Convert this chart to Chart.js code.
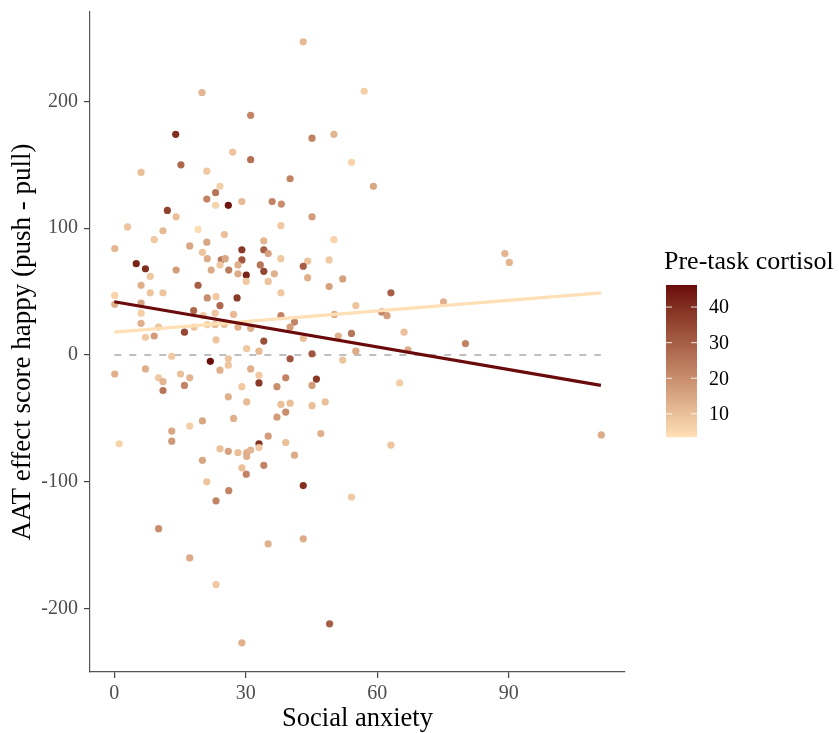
<!DOCTYPE html>
<html><head><meta charset="utf-8">
<script src="https://cdn.jsdelivr.net/npm/chart.js@4.4.1/dist/chart.umd.min.js"></script>
<style>html,body{margin:0;padding:0;background:#fff;} canvas{display:block;}</style>
</head><body>
<canvas id="c" width="839" height="733"></canvas>
<script>
// ---- data ----
const socialAnxiety = [
 20.0,31.1,14.0,27.0,31.1,15.2,6.1,21.1,24.1,23.1,21.1,23.1,26.0,29.1,36.0,12.1,14.1,3.0,11.1,19.1,25.1,9.1,21.1,34.1,
 43.1,57.0,45.1,50.1,54.1,40.1,59.1,38.1,45.1,38.0,50.1,
 0.1,17.2,20.1,21.2,29.1,34.1,35.1,24.4,25.3,24.1,29.1,28.2,5.0,7.1,8.2,14.1,22.1,26.1,28.2,30.1,30.1,33.3,34.1,35.1,
 6.1,8.2,11.1,19.1,21.2,23.2,28.0,0.1,0.1,24.1,6.1,18.1,23.0,27.2,6.1,20.3,6.1,10.1,18.2,21.2,23.0,25.1,28.2,31.1,
 7.1,9.1,16.0,23.2,30.2,34.1,33.0,13.1,21.9,26.0,26.0,24.1,31.1,7.1,0.1,15.1,17.2,10.1,11.1,11.1,16.0,33.0,33.0,29.1,
 26.0,30.2,20.1,27.2,17.2,13.1,13.1,1.1,24.1,26.0,28.2,30.2,31.1,33.0,33.0,35.1,20.1,
 38.0,44.1,43.1,49.0,36.5,44.1,52.1,49.0,63.1,38.0,55.1,75.1,61.0,62.2,50.2,38.0,41.1,40.1,66.1,43.1,51.1,54.1,55.1,67.0,
 45.1,40.1,52.1,46.1,45.1,39.1,37.1,65.1,38.0,40.1,45.1,48.1,39.1,37.1,47.1,39.1,63.1,41.1,
 89.1,90.1,80.1,111.1,
 29.1,30.1,34.1,30.2,21.1,26.1,23.2,10.1,35.1,17.2,23.2,29.1,
 43.1,54.1,43.1,49.1
];
const aatScore = [
 207,189,174,160,154,150,144,145,133,128,123,118,118,121,121,114,109,101,98,99,95,91,89,90,
 247,208,171,174,152,139,133,119,109,102,91,
 84,86,81,76,83,83,80,75,76,71,75,71,72,68,62,67,67,67,64,63,58,71,66,58,
 55,49,49,55,45,46,45,47,40,39,41,35,33,32,33,31,25,22,22,24,24,24,22,21,
 14,15,18,12,5,11,3,-1,-5,-3,-8,-12,-11,-11,-15,-15,-18,-18,-21,-28,-24,-16,-22,-25,
 -33,-37,-52,-50,-56,-60,-68,-70,-74,-76,-77,-77,-75,-70,-73,-64,-83,
 76,74,70,75,64,61,60,54,49,49,39,42,34,31,32,31,26,22,18,13,15,17,3,4,
 1,-3,-4,-19,-24,-18,-25,-22,-39,-38,-40,-37,-45,-49,-62,-69,-71,-79,
 80,73,9,-63,
 -89,-94,-87,-80,-100,-107,-115,-137,-149,-160,-181,-227,
 -103,-112,-145,-212
];
const cortisol = [
 12,22,40,9,26,28,10,8,7,25,22,6,45,11,22,36,10,9,11,4,10,8,15,12,
 11,7,22,12,6,22,15,20,17,8,6,
 12,15,9,14,38,30,16,25,15,8,32,13,42,40,8,17,14,24,14,42,8,25,35,9,
 13,9,9,30,20,8,38,6,13,28,15,28,9,11,7,8,13,9,9,7,11,9,13,13,
 8,17,35,9,8,33,11,8,46,9,9,13,13,13,13,10,12,8,12,25,22,8,38,8,
 13,11,15,13,7,15,18,6,10,16,10,13,12,40,8,17,15,
 8,9,30,8,13,13,16,16,30,8,9,13,22,17,13,22,22,17,10,10,13,25,14,14,
 32,32,9,38,17,22,20,7,10,10,10,10,20,17,13,10,9,14,
 12,12,22,14,
 10,22,22,13,9,22,22,20,13,14,8,13,
 40,8,14,30
];
const xTicks = [0, 30, 60, 90];
const yTicks = [-200, -100, 0, 100, 200];
const legendTicks = [10, 20, 30, 40];
const fitX = [0, 111];
const fitHighCortisol = [42, -24];
const fitLowCortisol = [18, 49];
const zeroLineX = [0, 111];
const zeroLineY = [0, 0];
const cortisolMin = 3.5, cortisolMax = 46.2;
const lowColor = '#FFE0B6', highColor = '#6B0A0A';

// ---- colour scale (Lab interpolation like ggplot) ----
function hexToRgb(h){h=h.replace('#','');return [0,2,4].map(i=>parseInt(h.substr(i,2),16));}
function toLin(c){c/=255;return c<=0.04045?c/12.92:Math.pow((c+0.055)/1.055,2.4);}
function fromLin(c){c=c<=0.0031308?12.92*c:1.055*Math.pow(c,1/2.4)-0.055;return Math.round(Math.max(0,Math.min(1,c))*255);}
const Wn=[0.95047,1,1.08883];
function rgbToLab(rgb){const [r,g,b]=rgb.map(toLin);
 const X=(0.4124*r+0.3576*g+0.1805*b)/Wn[0],Y=(0.2126*r+0.7152*g+0.0722*b)/Wn[1],Z=(0.0193*r+0.1192*g+0.9505*b)/Wn[2];
 const f=t=>t>0.008856?Math.cbrt(t):7.787*t+16/116;
 const fx=f(X),fy=f(Y),fz=f(Z);return [116*fy-16,500*(fx-fy),200*(fy-fz)];}
function labToRgb(lab){const [L,a,b]=lab;const fy=(L+16)/116,fx=fy+a/500,fz=fy-b/200;
 const fi=t=>t*t*t>0.008856?t*t*t:(t-16/116)/7.787;
 const X=fi(fx)*Wn[0],Y=fi(fy)*Wn[1],Z=fi(fz)*Wn[2];
 const r=3.2406*X-1.5372*Y-0.4986*Z,g=-0.9689*X+1.8758*Y+0.0415*Z,bb=0.0557*X-0.2040*Y+1.0570*Z;
 return [fromLin(r),fromLin(g),fromLin(bb)];}
const labLow=rgbToLab(hexToRgb(lowColor)),labHigh=rgbToLab(hexToRgb(highColor));
function cortisolColor(v){let t=(v-cortisolMin)/(cortisolMax-cortisolMin);t=Math.max(0,Math.min(1,t));
 const lab=labLow.map((l,i)=>l+(labHigh[i]-l)*t);const c=labToRgb(lab);return `rgb(${c[0]},${c[1]},${c[2]})`;}

const SERIF = "'Liberation Serif','Times New Roman',serif";

const legendPlugin = {
 id:'cortisolLegend',
 afterDraw(chart){
  const ctx=chart.ctx;
  const barX=666, barW=31, barTop=285, barH=152;
  ctx.save();
  for(let i=0;i<barH;i++){
   const v=cortisolMax-(i+0.5)/barH*(cortisolMax-cortisolMin);
   ctx.fillStyle=cortisolColor(v);
   ctx.fillRect(barX,barTop+i,barW,1.2);
  }
  ctx.font='20px '+SERIF;
  ctx.textAlign='left';ctx.textBaseline='middle';
  legendTicks.forEach(t=>{
   const y=barTop+(cortisolMax-t)/(cortisolMax-cortisolMin)*barH;
   ctx.strokeStyle='rgba(255,255,255,0.85)';ctx.lineWidth=1;
   ctx.beginPath();ctx.moveTo(barX,y);ctx.lineTo(barX+6,y);ctx.moveTo(barX+barW-6,y);ctx.lineTo(barX+barW,y);ctx.stroke();
   ctx.fillStyle='#000';ctx.fillText(String(t),709,y+1);
  });
  ctx.font='26px '+SERIF;ctx.fillStyle='#000';ctx.textBaseline='middle';
  ctx.fillText('Pre-task cortisol',664,262);
  ctx.restore();
 }
};

const points = socialAnxiety.map((x,i)=>({x:x,y:aatScore[i]}));
const pointColors = cortisol.map(cortisolColor);

new Chart(document.getElementById('c'),{
 type:'scatter',
 data:{datasets:[
  {type:'line',data:zeroLineX.map((x,i)=>({x:x,y:zeroLineY[i]})),borderColor:'#ABABAB',borderWidth:1.6,borderDash:[7,8],pointRadius:0,order:3},
  {type:'scatter',data:points,backgroundColor:pointColors,pointRadius:3.6,pointBorderWidth:0,borderWidth:0,order:2},
  {type:'line',data:fitX.map((x,i)=>({x:x,y:fitLowCortisol[i]})),borderColor:cortisolColor(cortisolMin),borderWidth:3.2,pointRadius:0,order:1},
  {type:'line',data:fitX.map((x,i)=>({x:x,y:fitHighCortisol[i]})),borderColor:cortisolColor(cortisolMax),borderWidth:3.2,pointRadius:0,order:0}
 ]},
 options:{
  responsive:false,animation:false,
  layout:{padding:{left:0,right:214,top:12,bottom:0}},
  plugins:{legend:{display:false},tooltip:{enabled:false}},
  scales:{
   x:{type:'linear',min:-5.55,max:116.5,
    afterBuildTicks:s=>{s.ticks=xTicks.map(v=>({value:v}));},
    afterFit:s=>{s.height=61;s.paddingLeft=0;s.paddingRight=0;},
    grid:{drawOnChartArea:false,drawTicks:true,tickLength:6,color:'#444',lineWidth:1.2},
    border:{display:true,color:'#555',width:1.2},
    ticks:{font:{family:SERIF,size:20},color:'#4D4D4D',padding:4,maxRotation:0},
    title:{display:true,text:'Social anxiety',font:{family:SERIF,size:26.5,lineHeight:1.2},color:'#000',padding:{top:0,bottom:-2}}
   },
   y:{type:'linear',min:-250,max:270.5,
    afterBuildTicks:s=>{s.ticks=yTicks.map(v=>({value:v}));},
    afterFit:s=>{s.width=90;s.paddingTop=0;s.paddingBottom=0;},
    grid:{drawOnChartArea:false,drawTicks:true,tickLength:6,color:'#444',lineWidth:1.2},
    border:{display:true,color:'#555',width:1.2},
    ticks:{font:{family:SERIF,size:20},color:'#4D4D4D',padding:6},
    title:{display:true,text:'AAT effect score happy (push - pull)',font:{family:SERIF,size:27,lineHeight:1.2},color:'#000',padding:{top:7,bottom:0}}
   }
  }
 },
 plugins:[legendPlugin]
});
</script>
</body></html>
